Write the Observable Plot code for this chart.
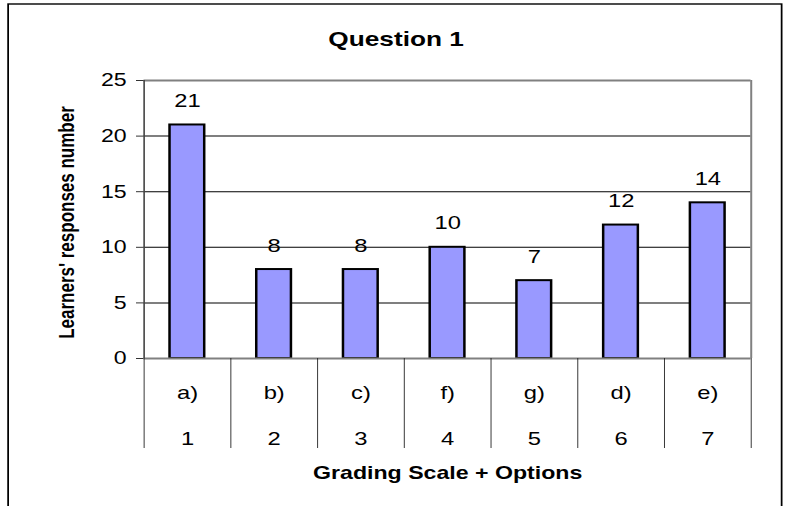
<!DOCTYPE html>
<html>
<head>
<meta charset="utf-8">
<script src="https://cdn.jsdelivr.net/npm/d3@7"></script>
<script src="https://cdn.jsdelivr.net/npm/@observablehq/plot@0.6"></script>
<style>
  html, body { margin: 0; padding: 0; background: #fff; overflow: hidden; }
  #chart svg { display: block; }
</style>
</head>
<body>
<div id="chart"></div>
<script>
// ---- data ----
const title = "Question 1";
const yTitle = "Learners' responses number";
const xTitle = "Grading Scale + Options";
const categories = ["a)", "b)", "c)", "f)", "g)", "d)", "e)"];
const scaleNumbers = ["1", "2", "3", "4", "5", "6", "7"];
const values = [21, 8, 8, 10, 7, 12, 14];
const yTicks = [0, 5, 10, 15, 20, 25];
const gridValues = [5, 10, 15, 20];

// ---- layout (the reference is horizontally stretched; draw narrow, stretch via viewBox) ----
const OUT_W = 785, OUT_H = 506, STRETCH = 1.25;
const W = OUT_W / STRETCH;
const mL = 143.5 / STRETCH, mR = W - 750.6 / STRETCH, mT = 80, mB = 148;
const plotH = OUT_H - mT - mB;
const font = "'Liberation Sans', Arial, Helvetica, sans-serif";

const data = categories.map((c, i) => ({cat: c, num: scaleNumbers[i], value: values[i], i}));
const edges = d3.range(categories.length + 1);

const chart = Plot.plot({
  width: W,
  height: OUT_H,
  marginLeft: mL, marginRight: mR, marginTop: mT, marginBottom: mB,
  style: {fontFamily: font, color: "black", background: "white", overflow: "visible"},
  x: {domain: [0, categories.length], axis: null},
  y: {domain: [0, 25], axis: null, label: null},
  marks: [
    // outer chart border
    Plot.frame({stroke: "black", strokeWidth: 1.4,
      insetLeft: -(mL - 6), insetTop: -(mT - 3.5), insetRight: -(624.8 - (W - mR)), insetBottom: -300}),
    // gridlines
    Plot.ruleY(gridValues, {stroke: "black", strokeWidth: 1}),
    // plot area top & right border
    Plot.ruleY([25], {stroke: "#808080", strokeWidth: 2}),
    Plot.ruleX([categories.length], {stroke: "#808080", strokeWidth: 2 / STRETCH}),
    // bars
    Plot.rectY(data, {x1: d => d.i + 0.3, x2: d => d.i + 0.7, y1: 0, y2: "value",
      fill: "#9999FF", stroke: "black", strokeWidth: 2}),
    // zero line
    Plot.ruleY([0], {stroke: "#808080", strokeWidth: 2}),
    // category table dividers
    Plot.ruleX(edges, {stroke: "#222", strokeWidth: 1 / STRETCH, insetTop: plotH, insetBottom: -90}),
    // left axis line
    Plot.ruleX([0], {stroke: "#444", strokeWidth: 1.6 / STRETCH}),
    // y axis
    Plot.axisY(yTicks, {label: null, tickSize: 6, tickPadding: 8, fontSize: 18.5,
      stroke: "#333", fill: "black", strokeWidth: 1}),
    // value labels
    Plot.text(data, {x: d => d.i + 0.5, y: "value", text: d => String(d.value),
      lineAnchor: "bottom", dy: -18, fontSize: 19, fill: "black"}),
    // category labels
    Plot.text(data, {x: d => d.i + 0.5, y: () => 0, text: "cat",
      lineAnchor: "bottom", dy: 40, fontSize: 19, fill: "black"}),
    Plot.text(data, {x: d => d.i + 0.5, y: () => 0, text: "num",
      lineAnchor: "bottom", dy: 86, fontSize: 19, fill: "black"}),
    // titles
    Plot.text([title], {frameAnchor: "top", dx: 395.5 / STRETCH - (mL + (W - mR)) / 2, dy: -34.5,
      lineAnchor: "bottom", fontSize: 21, fontWeight: "bold", fill: "black"}),
    Plot.text([xTitle], {frameAnchor: "bottom", dy: 120, lineAnchor: "bottom",
      fontSize: 18.5, fontWeight: "bold", fill: "black"}),
    Plot.text([yTitle], {frameAnchor: "left", dx: 73.3 / STRETCH - mL, dy: 3, rotate: -90,
      lineAnchor: "bottom", textAnchor: "middle", fontSize: 17, fontWeight: "bold", fill: "black"})
  ]
});

chart.setAttribute("viewBox", `0 0 ${W} ${OUT_H}`);
chart.setAttribute("preserveAspectRatio", "none");
chart.setAttribute("width", OUT_W);
chart.setAttribute("height", OUT_H);
chart.style.width = OUT_W + "px";
chart.style.height = OUT_H + "px";
chart.style.maxWidth = "none";
document.getElementById("chart").appendChild(chart);
</script>
</body>
</html>
